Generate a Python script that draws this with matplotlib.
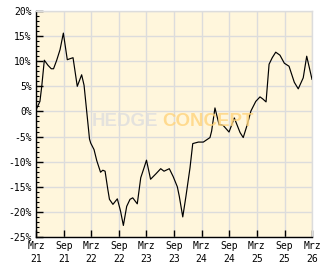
import matplotlib
matplotlib.use("Agg")
import matplotlib.pyplot as plt
from matplotlib.ticker import MultipleLocator
import pandas as pd

dates = ["2021-03-01", "2021-03-27", "2021-04-08", "2021-04-25", "2021-05-19", "2021-06-10",
         "2021-06-25", "2021-07-16", "2021-08-07", "2021-08-29", "2021-09-24", "2021-10-12",
         "2021-11-01", "2021-11-29", "2021-12-28", "2022-01-13", "2022-02-18", "2022-02-26",
         "2022-03-20", "2022-04-07", "2022-05-02", "2022-05-17", "2022-06-01", "2022-06-19",
         "2022-06-30", "2022-07-23", "2022-08-21", "2022-09-11", "2022-09-30", "2022-10-22",
         "2022-11-13", "2022-12-01", "2022-12-31", "2023-01-23", "2023-02-14", "2023-03-02",
         "2023-03-29", "2023-05-04", "2023-06-04", "2023-06-26", "2023-07-31", "2023-08-26",
         "2023-09-22", "2023-10-05", "2023-10-28", "2023-11-18", "2023-12-15", "2024-01-02",
         "2024-02-08", "2024-03-12", "2024-04-25", "2024-05-06", "2024-05-28", "2024-06-24",
         "2024-07-22", "2024-08-29", "2024-10-03", "2024-11-10", "2024-12-01", "2024-12-28",
         "2025-01-21", "2025-02-22", "2025-03-22", "2025-04-09", "2025-05-01", "2025-05-21",
         "2025-06-11", "2025-07-04", "2025-08-01", "2025-08-30", "2025-09-30", "2025-11-04",
         "2025-11-30", "2026-01-02", "2026-01-25", "2026-03-01"]
values = [0.3, 2.0, 5.0, 10.2, 9.2, 8.5,
          8.5, 10.2, 12.3, 15.6, 10.3, 10.5,
          10.7, 5.0, 7.3, 5.2, -5.5, -6.3,
          -7.6, -9.8, -12.1, -11.7, -11.9, -15.5,
          -17.5, -18.5, -17.4, -19.8, -22.7, -18.9,
          -17.5, -17.2, -18.4, -13.2, -11.2, -9.7,
          -13.5, -12.4, -11.4, -11.9, -11.4, -13.0,
          -15.0, -16.9, -21.0, -16.9, -11.2, -6.4,
          -6.1, -6.1, -5.2, -3.9, 0.7, -2.6,
          -2.8, -4.1, -1.3, -4.2, -5.2, -2.6,
          0.1, 2.0, 2.9, 2.5, 1.9, 9.4,
          10.7, 11.8, 11.2, 9.6, 9.0, 5.8,
          4.5, 6.7, 11.0, 6.4]

tick_dates = ["2021-03-01", "2021-09-01", "2022-03-01", "2022-09-01", "2023-03-01",
              "2023-09-01", "2024-03-01", "2024-09-01", "2025-03-01", "2025-09-01",
              "2026-03-01"]
tick_labels = ["Mrz\n21", "Sep\n21", "Mrz\n22", "Sep\n22", "Mrz\n23", "Sep\n23",
               "Mrz\n24", "Sep\n24", "Mrz\n25", "Sep\n25", "Mrz\n26"]
y_ticks = [20, 15, 10, 5, 0, -5, -10, -15, -20, -25]
y_labels = ["20%", "15%", "10%", "5%", "0%", "-5%", "-10%", "-15%", "-20%", "-25%"]

W, H = 332, 269
fig = plt.figure(figsize=(W / 100, H / 100), dpi=100)
fig.patch.set_facecolor("white")
ax = fig.add_axes([36 / W, (H - 237) / H, (312 - 36) / W, (237 - 11) / H])
ax.set_facecolor("#FFF6DC")

x = pd.to_datetime(dates)
xt = pd.to_datetime(tick_dates)
ax.plot(x, values, color="black", lw=0.85, zorder=3)

ax.set_xlim(xt[0], xt[-1])
ax.set_ylim(-25, 20)
ax.set_xticks(xt)
ax.set_xticklabels(tick_labels)
ax.set_yticks(y_ticks)
ax.set_yticklabels(y_labels)
ax.yaxis.set_minor_locator(MultipleLocator(1))

ax.grid(True, which="major", color="#DCDCDC", lw=1, zorder=1)
ax.set_axisbelow(True)
for s in ["top", "right"]:
    ax.spines[s].set_color("#DCDCDC")
    ax.spines[s].set_linewidth(1)
for s in ["left", "bottom"]:
    ax.spines[s].set_color("black")
    ax.spines[s].set_linewidth(1)

ax.tick_params(axis="both", which="major", direction="in", length=5, width=1,
               color="black", labelsize=7, pad=3)
ax.tick_params(axis="y", which="minor", direction="in", length=2.5, width=0.8, color="black")
for lab in ax.get_xticklabels() + ax.get_yticklabels():
    lab.set_fontfamily("DejaVu Sans Mono")
    lab.set_linespacing(1.3)

wm_font = ["Liberation Sans", "DejaVu Sans"]
ax.text(0.444, 0.513, "HEDGE", transform=ax.transAxes, ha="right", va="center",
        fontsize=13.5, fontweight="bold", family=wm_font, color="#DEDEDE", alpha=0.8,
        zorder=5)
ax.text(0.458, 0.513, "CONCEPT", transform=ax.transAxes, ha="left", va="center",
        fontsize=13.5, fontweight="bold", family=wm_font, color="#FFD47C", alpha=0.8,
        zorder=5)

fig.savefig("out.png", dpi=100, facecolor="white")
